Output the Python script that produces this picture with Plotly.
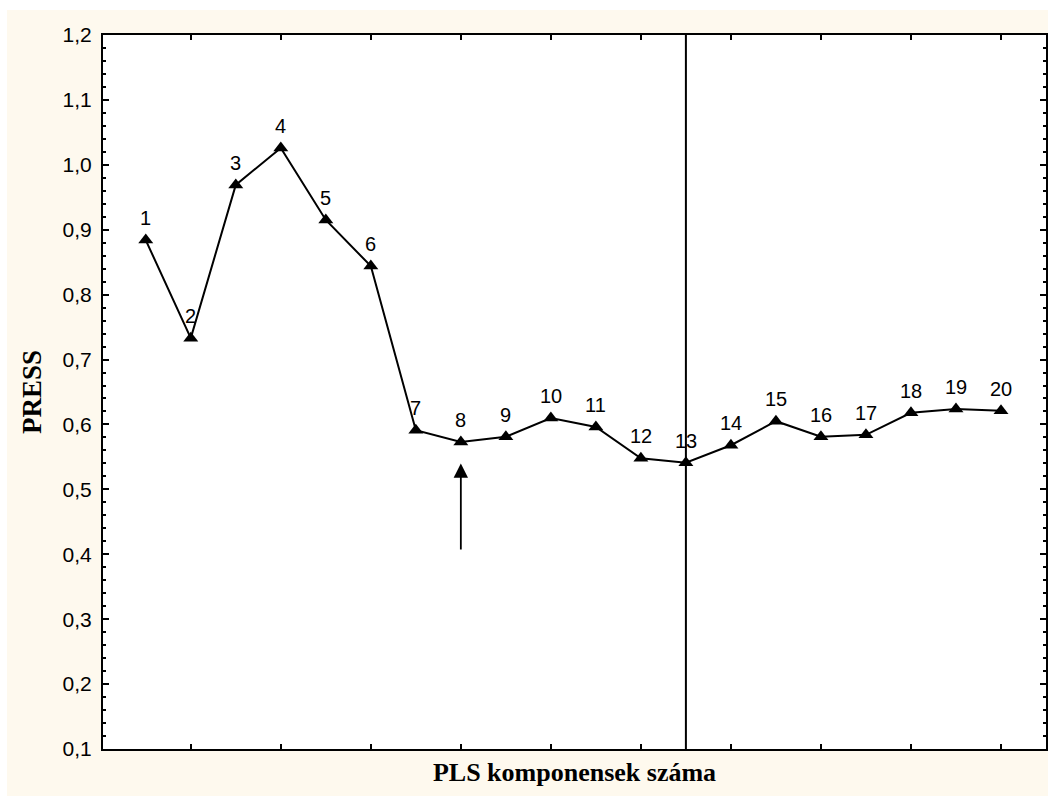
import plotly.graph_objects as go

# PRESS value for each number of PLS components
components = list(range(1, 21))
press = [0.884, 0.733, 0.969, 1.026, 0.915, 0.844, 0.591, 0.573, 0.581, 0.610,
         0.596, 0.548, 0.541, 0.568, 0.605, 0.581, 0.584, 0.618, 0.624, 0.621]
point_labels = [str(c) for c in components]

chosen_component = 8      # marked with the arrow
reference_component = 13  # vertical reference line
arrow_from, arrow_to = 0.405, 0.54

y_ticks = [0.1, 0.2, 0.3, 0.4, 0.5, 0.6, 0.7, 0.8, 0.9, 1.0, 1.1, 1.2]
x_ticks = list(range(2, 21, 2))

cream = "#fef9ee"
sans = "Liberation Sans, Arial, sans-serif"
serif = "Liberation Serif, Times New Roman, serif"

fig = go.Figure()
fig.add_trace(go.Scatter(
    x=components, y=press, mode="lines+markers",
    line=dict(color="black", width=2),
    marker=dict(symbol="triangle-up", size=13, color="black"),
    hoverinfo="skip", showlegend=False,
))

annotations = []
for c, v, t in zip(components, press, point_labels):
    annotations.append(dict(x=c, y=v, text=t, showarrow=False, yshift=22,
                            font=dict(family=sans, size=20, color="black")))
annotations.append(dict(
    x=chosen_component, y=arrow_to, ax=chosen_component, ay=arrow_from,
    xref="x", yref="y", axref="x", ayref="y", text="", showarrow=True,
    arrowhead=2, arrowsize=1.6, arrowwidth=1.8, arrowcolor="black", standoff=0,
))

shapes = [
    # cream page background with a thin white border at top and left
    dict(type="rect", xref="paper", yref="paper", x0=-0.1018, x1=1.01, y0=-0.08, y1=1.035,
         fillcolor=cream, line=dict(width=0), layer="below"),
    # white plotting area
    dict(type="rect", xref="x domain", yref="y domain", x0=0, x1=1, y0=0, y1=1,
         fillcolor="white", line=dict(width=0), layer="below"),
    # reference line
    dict(type="line", xref="x", yref="y domain", x0=reference_component, x1=reference_component,
         y0=0, y1=1, line=dict(color="black", width=2)),
]

fig.update_layout(
    width=1048, height=796,
    margin=dict(l=103, r=2, t=35, b=47),
    paper_bgcolor="white", plot_bgcolor="white",
    separators=",.",
    annotations=annotations, shapes=shapes,
    xaxis=dict(
        range=[0.05, 21.0], tickvals=x_ticks, ticks="inside", ticklen=5, tickwidth=2,
        tickcolor="black", showticklabels=False, showgrid=False, zeroline=False,
        showline=True, linecolor="black", linewidth=2, mirror="allticks",
        title=dict(text="<b>PLS komponensek száma</b>", standoff=13,
                   font=dict(family=serif, size=26, color="black")),
    ),
    yaxis=dict(
        range=[0.1, 1.2], tickvals=y_ticks, tickformat=".1f", ticks="inside", ticklen=6,
        tickwidth=2, tickcolor="black", showgrid=False, zeroline=False,
        showline=True, linecolor="black", linewidth=2, mirror="allticks",
        ticklabelstandoff=5,
        tickfont=dict(family=sans, size=21, color="black"),
        minor=dict(dtick=0.02, tick0=0.1, ticks="inside", ticklen=3, tickwidth=2, tickcolor="black"),
        title=dict(text="<b>PRESS</b>", standoff=13,
                   font=dict(family=serif, size=27, color="black")),
    ),
)
fig.update_xaxes(automargin=False)
fig.update_yaxes(automargin=False)

fig.write_html("out.html")
